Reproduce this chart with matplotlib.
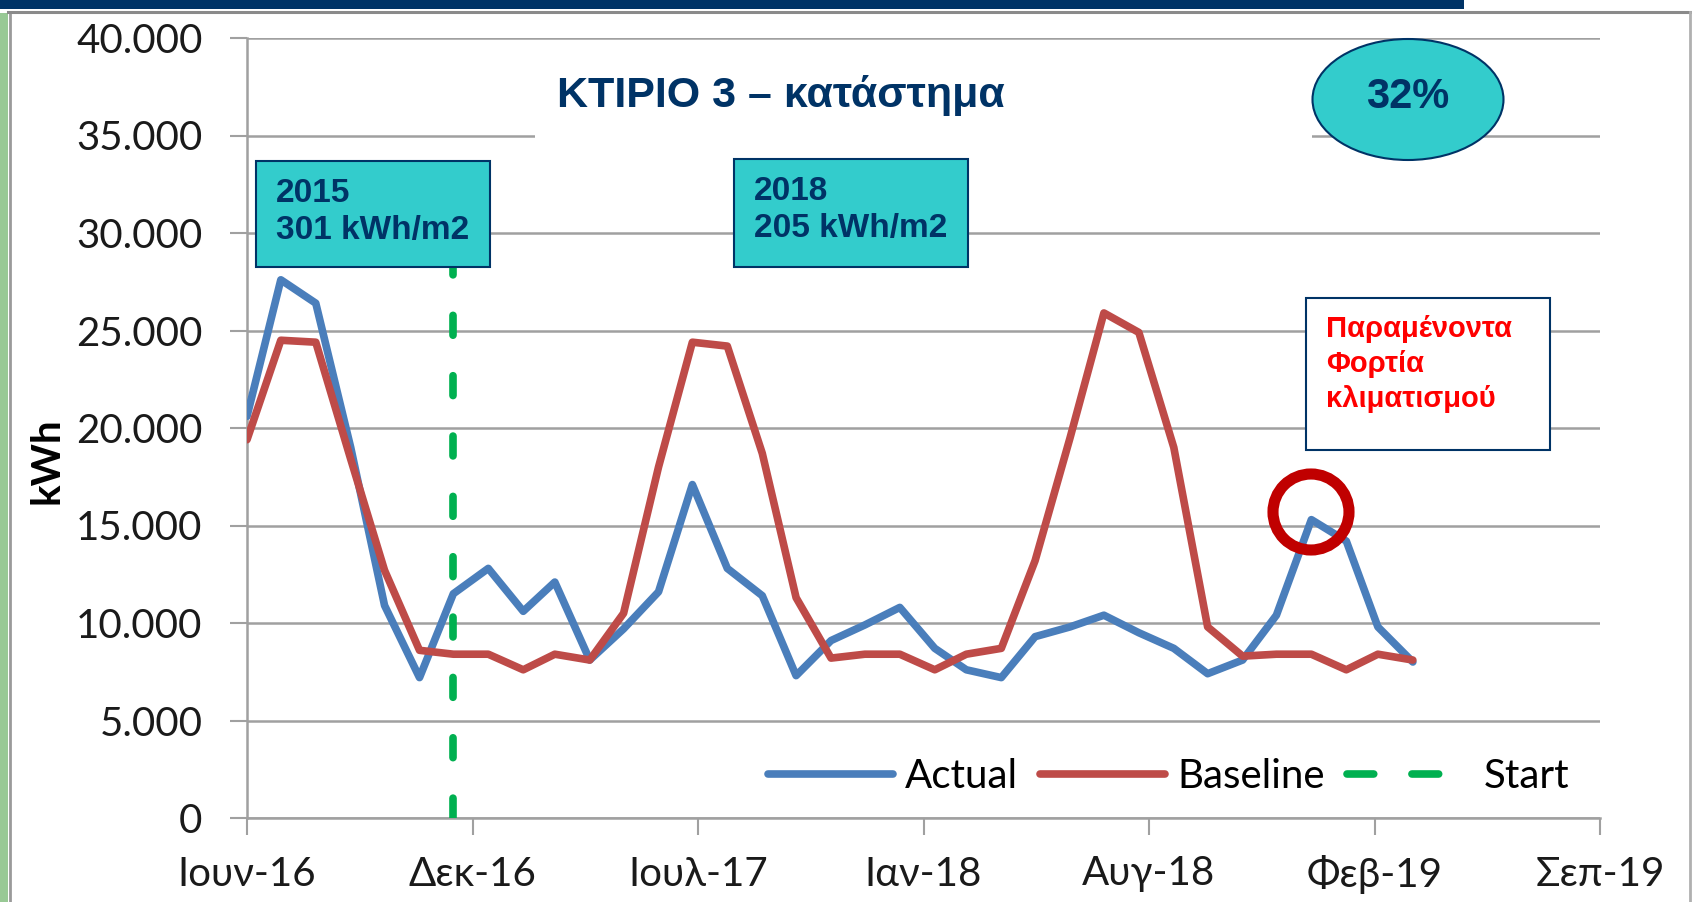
import numpy as np
import pandas as pd
import matplotlib
matplotlib.use('Agg')
import matplotlib.pyplot as plt
from matplotlib.patches import Rectangle, Ellipse
from matplotlib.lines import Line2D

plt.rcParams['font.family'] = ['Lato', 'DejaVu Sans']

# μηνιαία δεδομένα Ιουν-16 .. Απρ-19
months = pd.date_range('2016-06-01', periods=35, freq='MS')
actual = [20600, 27600, 26400, 19000, 10900, 7200, 11500,
          12800, 10600, 12100, 8100, 9700, 11600, 17100, 12800, 11400, 7300, 9100, 9900,
          10800, 8700, 7600, 7200, 9300, 9800, 10400, 9500, 8700, 7400, 8100, 10400,
          15300, 14200, 9800, 8000]
baseline = [19400, 24500, 24400, 18400, 12700, 8600, 8400,
            8400, 7600, 8400, 8100, 10500, 18000, 24400, 24200, 18700, 11300, 8200, 8400,
            8400, 7600, 8400, 8700, 13200, 19500, 25900, 24900, 19000, 9800, 8300, 8400,
            8400, 7600, 8400, 8100]
start_date = pd.Timestamp('2016-12-01')
start_y = [0, 30000]

x_labels = ['Ιουν-16', 'Δεκ-16', 'Ιουλ-17', 'Ιαν-18', 'Αυγ-18', 'Φεβ-19', 'Σεπ-19']
y_ticks = [0, 5000, 10000, 15000, 20000, 25000, 30000, 35000, 40000]

navy = '#003366'
teal = '#33CCCC'
grid_c = '#a0a0a0'

W, H = 1692, 902
def fx(px):
    return px / W
def fy(py):
    return 1 - py / H

fig = plt.figure(figsize=(16.92, 9.02), dpi=100)
ax = fig.add_axes([fx(247), fy(818), fx(1600) - fx(247), fy(38) - fy(818)])

ax.plot(months, actual, color='#4A7EBB', lw=5.5, solid_joinstyle='round',
        solid_capstyle='round', zorder=3, label='Actual')
ax.plot(months, baseline, color='#BE4B48', lw=5.5, solid_joinstyle='round',
        solid_capstyle='round', zorder=4, label='Baseline')
ax.plot([start_date, start_date], start_y, color='#00B050', lw=5.5,
        linestyle=(0, (2.6, 5.3)), dash_capstyle='round', zorder=5, label='Start')

x0 = pd.Timestamp('2016-06-01')
tick_dates = [x0 + pd.Timedelta(days=200 * i) for i in range(len(x_labels))]
ax.set_xlim(tick_dates[0], tick_dates[-1])
ax.set_xticks(tick_dates)
ax.set_xticklabels(x_labels)
ax.set_ylim(0, 40000)
ax.set_yticks(y_ticks)
ax.set_yticklabels([f'{v:,}'.replace(',', '.') for v in y_ticks])

ax.yaxis.grid(True, color=grid_c, lw=1.8)
ax.set_axisbelow(True)
for s in ['top', 'right']:
    ax.spines[s].set_visible(False)
for s in ['left', 'bottom']:
    ax.spines[s].set_color(grid_c)
    ax.spines[s].set_linewidth(1.8)
ax.tick_params(axis='both', length=12, width=1.5, color=grid_c,
               labelsize=29, labelcolor='#1a1a1a')
ax.tick_params(axis='y', pad=20)
ax.tick_params(axis='x', pad=15)

leg = ax.legend(loc='center left', bbox_to_anchor=(fx(768), fy(777)),
                bbox_transform=fig.transFigure, ncol=3, frameon=False, fontsize=29,
                handlelength=3.1, handletextpad=0.3, columnspacing=0.55,
                borderpad=0, borderaxespad=0)
# στο υπόμνημα: δύο παύλες και κενό πριν το "Start"
leg.get_lines()[2].set_linestyle((0, (3.5, 5.0)))

fig.text(fx(47), fy(461), 'kWh', rotation=90, ha='center', va='center',
         fontsize=29, fontweight='bold', color='black')

# πλαίσιο διαφάνειας
fig.add_artist(Rectangle((0, 0), fx(8), fy(13), transform=fig.transFigure,
                         facecolor='#98C995', edgecolor='none', zorder=1))
fig.add_artist(Line2D([fx(9.5), fx(9.5)], [0, fy(12)], transform=fig.transFigure,
                      color='#9a9a9a', lw=2, zorder=1))
fig.add_artist(Rectangle((0, fy(9)), fx(1464), 9 / H, transform=fig.transFigure,
                         facecolor=navy, edgecolor='none', zorder=2))
fig.add_artist(Line2D([fx(8), 1], [fy(11.5), fy(11.5)], transform=fig.transFigure,
                      color='#8a8a8a', lw=2.2, zorder=1))
fig.add_artist(Line2D([fx(1690), fx(1690)], [0, fy(12)], transform=fig.transFigure,
                      color='#b0b0b0', lw=2, zorder=1))

# τίτλος
fig.add_artist(Rectangle((fx(535), fy(145)), fx(1312) - fx(535), 95 / H,
                         transform=fig.transFigure, facecolor='white',
                         edgecolor='none', zorder=2))
fig.text(fx(557), fy(107), 'ΚΤΙΡΙΟ 3 – κατάστημα', fontsize=31, fontweight='bold',
         color=navy, family='Liberation Sans', ha='left', va='baseline', zorder=5)

# κουτιά
boxes = [((256, 161, 490, 267), ['2015', '301 kWh/m2']),
         ((734, 159, 968, 267), ['2018', '205 kWh/m2'])]
for (l, t, r, b), lines in boxes:
    fig.add_artist(Rectangle((fx(l), fy(b)), fx(r) - fx(l), (b - t) / H,
                             transform=fig.transFigure, facecolor=teal,
                             edgecolor=navy, lw=1.5, zorder=4))
    for i, txt in enumerate(lines):
        fig.text(fx(l + 20), fy(t + 41 + 37 * i), txt, fontsize=24, fontweight='bold',
                 color=navy, family='Liberation Sans', ha='left', va='baseline', zorder=5)

fig.add_artist(Ellipse((fx(1408), fy(99.5)), fx(191), 121 / H, transform=fig.transFigure,
                       facecolor=teal, edgecolor=navy, lw=1.5, zorder=4))
fig.text(fx(1408), fy(108), '32%', fontsize=30, fontweight='bold', color=navy,
         family='Liberation Sans', ha='center', va='baseline', zorder=5)

fig.add_artist(Rectangle((fx(1306), fy(450)), fx(1550) - fx(1306), 152 / H,
                         transform=fig.transFigure, facecolor='white',
                         edgecolor=navy, lw=1.5, zorder=4))
for i, txt in enumerate(['Παραμένοντα', 'Φορτία', 'κλιματισμού']):
    fig.text(fx(1326), fy(337 + 35 * i), txt, fontsize=21, fontweight='bold',
             color='#FF0000', family='Liberation Sans', ha='left', va='baseline', zorder=5)

fig.add_artist(Ellipse((fx(1311), fy(512)), fx(76), 76 / H, transform=fig.transFigure,
                       facecolor='none', edgecolor='#C00000', lw=8, zorder=6))

fig.savefig('out.png', dpi=100, facecolor='white')
